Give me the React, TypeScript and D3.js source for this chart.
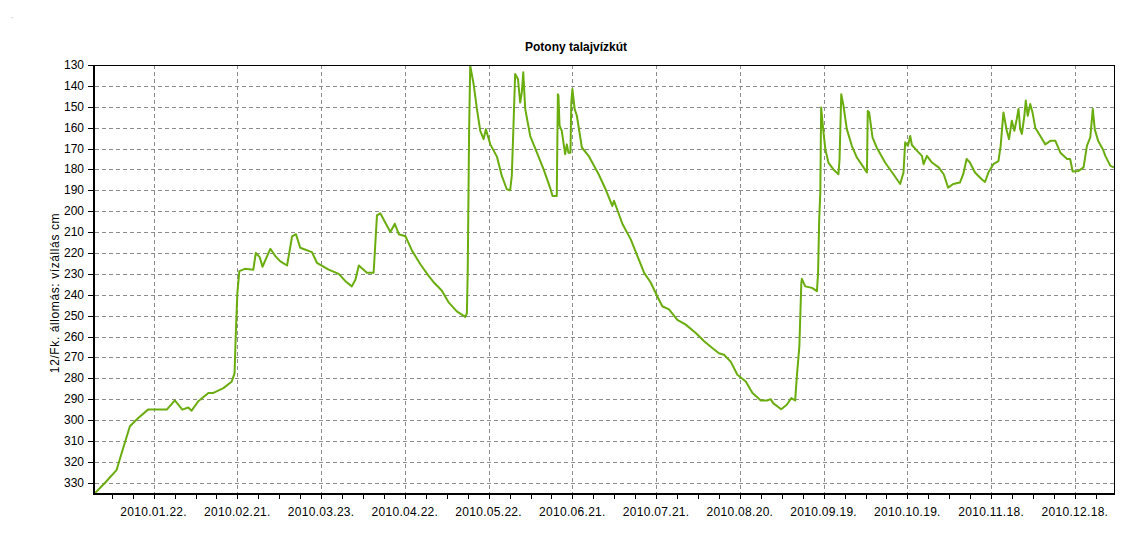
import React from "react";
import * as d3 from "d3";

const title = "Potony talajvízkút";
const yLabel = "12/Fk. állomás: vízállás cm";

// day of year 2010 (0 = 2010-01-01), water level in cm
const days = [
  0, 3.6, 7.7, 9.5, 12.5, 15.5, 19, 25.7, 28.6, 31.3, 33.4, 34.6, 37, 40.6, 42.4, 46, 49, 50, 50.4, 51,
  51.7, 53.7, 56.7, 57.6, 59, 60, 62.8, 64.6, 66.4, 68.8, 70.6, 72, 73.5, 77.7, 79.5, 83.7, 87.3, 89.7, 92, 93.3,
  94.5, 97.4, 99.8, 101, 102.2, 104, 105.8, 107.4, 108.8, 111.2, 113.6, 116.6, 119.5, 121.3, 124.2, 126.6, 129.6, 132.6, 133.2, 133.5,
  134, 134.4, 135.6, 136.8, 138, 139.2, 140, 141.6, 144, 145.7, 147.5, 148.7, 149.3, 149.9, 150.5, 151.5, 152.3, 152.9, 153.4, 154.1,
  155.9, 158.3, 160.7, 163, 163.9, 165.4, 165.8, 166, 166.4, 167.2, 168.4, 169, 169.6, 170.3, 170.6, 171, 171.8, 172.6, 174.4, 176.8,
  180.4, 182.9, 185.3, 185.9, 188.9, 191.9, 194.3, 196.7, 199, 201.4, 203.2, 205.6, 208.6, 211.6, 215.2, 218.2, 221.1, 223.5, 225.3, 227.7,
  230.1, 233.1, 235.5, 238.5, 240.9, 242, 243, 245.8, 247.8, 249.4, 250.8, 251.4, 252.3, 253, 253.2, 254.4, 256.8, 258.6, 259, 259.4,
  259.8, 260.1, 260.7, 261.6, 262.7, 264.5, 266.3, 266.7, 267.3, 268.1, 269.3, 271.1, 272.9, 275.3, 276.5, 276.8, 277.3, 278.5, 280, 283,
  286, 288.4, 289.6, 290.2, 291.2, 292, 292.6, 294.4, 296.2, 296.8, 298, 299.8, 302.2, 304, 305.6, 307.4, 309.8, 311, 312.2, 313.4,
  315.2, 317.6, 318.8, 320, 321.8, 323.6, 324.4, 325.4, 326.6, 327.4, 328.4, 329.3, 330.2, 330.8, 331.4, 332, 332.9, 333.4, 334.1, 335,
  335.8, 336.8, 338.6, 340.4, 342.2, 344, 345.8, 348.2, 349.3, 350.2, 352.3, 354.1, 355.3, 356.5, 357.4, 358.1, 359.3, 361, 361.9, 363.7,
  365,
];
const levels = [
  335, 330, 324, 316, 303, 299, 295, 295, 290.6, 295, 294, 295.5, 291, 287, 287, 284.7, 281.5, 277.5, 260, 239,
  228.7, 227.6, 228, 220, 222, 226.6, 218, 221.5, 224, 226, 212, 211, 217.5, 219.6, 224.7, 228, 230, 233.5, 236, 232.7,
  226, 229.5, 229.5, 202, 201, 205.5, 210, 206, 211, 212, 219, 225.5, 231, 234, 238, 243.5, 248, 250.6, 249, 229.5,
  162, 130.3, 139, 151, 161.5, 165.5, 160.7, 168, 174, 183, 189.5, 190, 183, 159, 134.3, 136.7, 148, 143, 133.5, 151,
  164, 172, 180, 188.7, 192.7, 192.7, 144, 144.7, 159, 161.5, 172.7, 168, 172, 172, 148, 141.5, 151, 154.3, 169.5, 173.5,
  182.3, 189.5, 197.5, 195, 206, 213.5, 221.5, 229.5, 234, 240.7, 245.5, 247, 252, 254.3, 258.3, 262.3, 265.5, 268, 268.7, 272,
  278.3, 281.5, 287, 290.6, 290.6, 290, 292, 294.8, 292.7, 289.5, 290.6, 279, 264.7, 234.3, 232.4, 236, 236.7, 238.3, 229.5, 204,
  191, 150.3, 159, 170.3, 176.7, 180, 182.3, 175, 144, 149.5, 160.7, 168.7, 174.3, 179, 181.5, 152, 152.7, 164.7, 169.5, 176.7,
  182.3, 187, 181.5, 167, 168.7, 164, 168.3, 171, 173.5, 177.5, 173.5, 176.7, 179, 182.3, 188.7, 187, 186.3, 182.3, 175, 176.7,
  181.5, 184.7, 186, 181.5, 177.5, 176, 168.7, 152.7, 161.5, 165.5, 156.7, 161.5, 155.7, 151, 160.7, 163, 154.3, 147, 154.3, 148.7,
  152.7, 160, 164, 168, 166.3, 166.3, 172, 175, 175, 181, 180.7, 179, 168.7, 164.7, 151, 160.7, 166.3, 170.3, 173.5, 178.3,
  179,
];

const xTickDates = [
  "2010-01-22", "2010-02-21", "2010-03-23", "2010-04-22", "2010-05-22", "2010-06-21",
  "2010-07-21", "2010-08-20", "2010-09-19", "2010-10-19", "2010-11-18", "2010-12-18",
];
const yTicks = [130, 140, 150, 160, 170, 180, 190, 200, 210, 220, 230, 240, 250, 260, 270, 280, 290, 300, 310, 320, 330];

const W = 1135;
const H = 557;
const left = 95;
const right = 1114;
const top = 65;
const bottom = 494;
const DAY = 864e5;
const start = Date.UTC(2010, 0, 1);

export default function App() {
  const x = d3.scaleUtc().domain([new Date(start), new Date(Date.UTC(2011, 0, 1))]).range([left, right]);
  const y = d3.scaleLinear().domain([130, 335.4]).range([top, bottom]);
  const parse = d3.utcParse("%Y-%m-%d");
  const fmt = d3.utcFormat("%Y.%m.%d.");
  const pts = days.map((d, i) => [new Date(start + d * DAY), levels[i]] as [Date, number]);
  const line = d3.line<[Date, number]>().x((d) => x(d[0])).y((d) => y(d[1]));
  const majors = xTickDates.map((s) => parse(s) as Date);
  const minors = d3.range(6, 365, 7.5).map((d) => new Date(start + d * DAY));
  const font = "'Liberation Sans', Arial, sans-serif";
  return (
    <svg width={W} height={H} style={{ position: "absolute", left: 0, top: 0, background: "#fff" }} fontFamily={font}>
      <rect x={0} y={0} width={W} height={H} fill="#fff" />
      <text x={11} y={17} fontSize={7} fill="#333">ˌ</text>
      <text x={576} y={51} textAnchor="middle" fontSize={12} fontWeight="bold" fill="#000">{title}</text>
      {/* grid */}
      <g stroke="#8c8c8c" strokeWidth={1} strokeDasharray="4,3" shapeRendering="crispEdges">
        {yTicks.map((t) => (
          <line key={"gy" + t} x1={left} x2={right} y1={Math.round(y(t)) + 0.5} y2={Math.round(y(t)) + 0.5} />
        ))}
        {majors.map((d, i) => (
          <line key={"gx" + i} x1={Math.round(x(d)) + 0.5} x2={Math.round(x(d)) + 0.5} y1={top} y2={bottom} />
        ))}
      </g>
      {/* line */}
      <path d={line(pts) || ""} fill="none" stroke="#6aad0e" strokeWidth={2} strokeLinejoin="round" />
      {/* frame */}
      <g shapeRendering="crispEdges">
        <line x1={left} x2={right} y1={top} y2={top} stroke="#000" strokeWidth={1} />
        <line x1={right} x2={right} y1={top} y2={bottom} stroke="#000" strokeWidth={1} />
        <line x1={left - 1} x2={right + 1} y1={bottom} y2={bottom} stroke="#000" strokeWidth={2} />
        <line x1={left - 1} x2={left - 1} y1={top} y2={bottom + 1} stroke="#000" strokeWidth={2} />
      </g>
      {/* y axis */}
      <g shapeRendering="crispEdges">
        {yTicks.map((t) => (
          <g key={"yt" + t}>
            <line x1={88} x2={left - 1} y1={Math.round(y(t)) + 0.5} y2={Math.round(y(t)) + 0.5} stroke="#000" />
            <text x={84} y={y(t) + 4} textAnchor="end" fontSize={12} fill="#000">{t}</text>
          </g>
        ))}
      </g>
      {/* x axis */}
      <g shapeRendering="crispEdges">
        {minors.map((d, i) => (
          <line key={"mt" + i} x1={Math.round(x(d)) + 0.5} x2={Math.round(x(d)) + 0.5} y1={bottom} y2={bottom + 5} stroke="#000" />
        ))}
        {majors.map((d, i) => (
          <g key={"xt" + i}>
            <line x1={Math.round(x(d)) + 0.5} x2={Math.round(x(d)) + 0.5} y1={bottom} y2={bottom + 5} stroke="#000" />
            <text x={x(d)} y={516} textAnchor="middle" fontSize={12} letterSpacing={0.3} fill="#000">{fmt(d)}</text>
          </g>
        ))}
      </g>
      <text transform={`translate(59,293) rotate(-90)`} textAnchor="middle" fontSize={12} letterSpacing={0.6} fill="#000">{yLabel}</text>
    </svg>
  );
}
